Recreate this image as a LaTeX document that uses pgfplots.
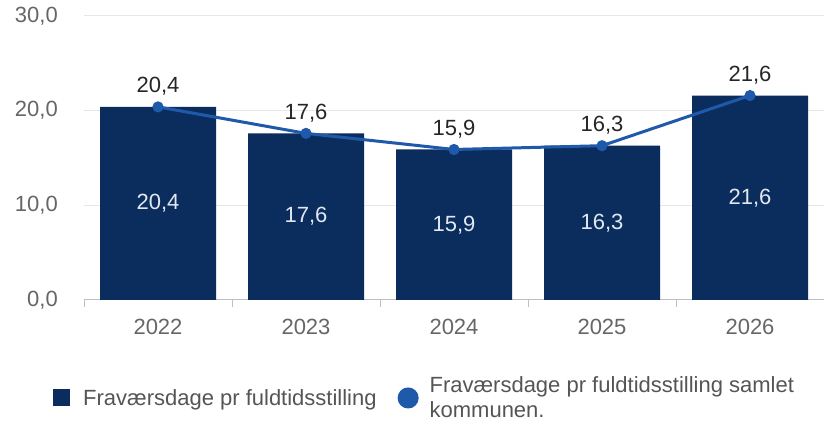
\documentclass[border=0pt]{standalone}
\usepackage{fontspec}
\setmainfont{Liberation Sans}
\usepackage{pgfplots}
\pgfplotsset{compat=1.18}
\definecolor{barblue}{HTML}{0A2D5E}
\definecolor{lineblue}{HTML}{1F5AAA}
\definecolor{txtgray}{HTML}{555555}
\definecolor{tickgray}{HTML}{666666}
\definecolor{gridgray}{HTML}{E6E6E6}
\definecolor{axgray}{HTML}{BFBFBF}
\definecolor{inlabel}{HTML}{E2E8F0}
\begin{document}
\begin{tikzpicture}
\useasboundingbox (0pt,0pt) rectangle (824pt,427pt);
\begin{axis}[
  at={(84pt,127pt)}, anchor=south west,
  scale only axis, width=740pt, height=284pt,
  xmin=-0.5, xmax=4.5, ymin=0, ymax=30,
  clip=false,
  font=\fontsize{22}{25}\selectfont,
  /pgf/number format/assume math mode=true,
  axis x line*=bottom, axis y line*=left,
  x axis line style={draw=axgray, line width=1pt},
  y axis line style={draw=none},
  xtick={0,1,2,3,4},
  xticklabels={2022,2023,2024,2025,2026},
  minor xtick={-0.5,0.5,1.5,2.5,3.5,4.5},
  xtick align=outside,
  major x tick style={draw=none},
  minor x tick style={draw=axgray, line width=1pt},
  minor tick length=7pt,
  xticklabel style={text=tickgray, inner sep=0pt, anchor=north, yshift=-15pt},
  ytick={0,10,20,30},
  ytick style={draw=none},
  ymajorgrids,
  grid style={draw=gridgray, line width=1pt},
  yticklabel style={text=tickgray, inner sep=0pt, anchor=east, xshift=-26pt,
    /pgf/number format/.cd, fixed, fixed zerofill, precision=1, use comma},
  legend columns=2,
  legend cell align=left,
  legend style={at={(axis description cs:-0.0419,-0.345)}, anchor=west,
    draw=none, fill=none, inner sep=0pt,
    nodes={inner sep=0pt, text=txtgray, align=left},
    /tikz/every even column/.append style={column sep=21pt}},
]
\addplot[ybar, bar width=116pt, bar shift=0pt, fill=barblue, draw=none,
  legend image code/.code={\fill[barblue] (0pt,-8.5pt) rectangle (17pt,8.5pt); \path (30pt,0pt);}]
  coordinates {(0,20.4) (1,17.6) (2,15.9) (3,16.3) (4,21.6)};
\addlegendentry{Fraværsdage pr fuldtidsstilling}
% labels centred in the bars
\addplot[draw=none, mark=none, forget plot,
  nodes near coords, point meta=explicit,
  nodes near coords style={anchor=center, inner sep=0pt, text=inlabel,
    /pgf/number format/.cd, fixed, fixed zerofill, precision=1, use comma}]
  coordinates {(0,10.2) [20.4] (1,8.8) [17.6] (2,7.95) [15.9] (3,8.15) [16.3] (4,10.8) [21.6]};
\addplot[color=lineblue, line width=3pt, mark=*, mark size=4pt,
  nodes near coords, point meta=y,
  nodes near coords style={anchor=south, inner sep=0pt, yshift=10pt, text=black!85,
    /pgf/number format/.cd, fixed, fixed zerofill, precision=1, use comma},
  legend image code/.code={\fill[lineblue] (9pt,0pt) circle (9pt); \path (29pt,0pt);}]
  coordinates {(0,20.4) (1,17.6) (2,15.9) (3,16.3) (4,21.6)};
\addlegendentry{Fraværsdage pr fuldtidsstilling samlet\\kommunen.}
\end{axis}
\end{tikzpicture}
\end{document}
